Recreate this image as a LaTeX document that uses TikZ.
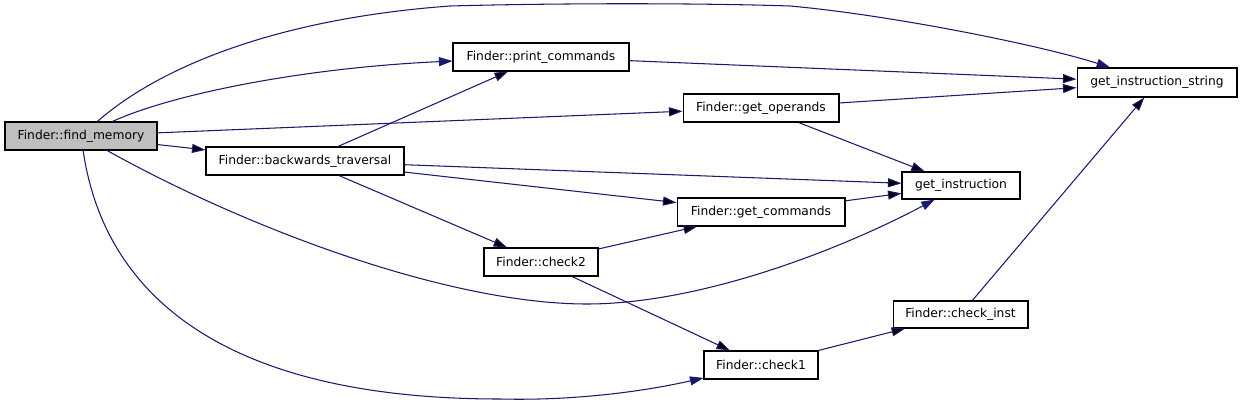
\documentclass[tikz,border=0pt]{standalone}
\usepackage{fontspec}
\setmainfont{DejaVu Sans}
\usetikzlibrary{arrows.meta}
\definecolor{callblue}{HTML}{191970}
\definecolor{rootgray}{HTML}{BFBFBF}

\begin{document}
\begin{tikzpicture}[
    x = 0.02cm,
    y = -0.02cm,
    font = \fontsize{7}{8}\selectfont,
    >={Triangle[length=0.27cm, width=0.18cm]},
    ]

    \tikzstyle{box}=[
    draw = black,
    line width = 0.6pt,
    fill = white,
    inner sep = 0pt,
    minimum height = 0.56cm,
    ]
    \tikzstyle{call}=[
    ->,
    draw = callblue,
    fill = none,
    line width = 0.6pt,
    ]

    \useasboundingbox (0,0) rectangle (1243,405);

    \node[box, fill=rootgray, minimum width=3.04cm] (fm) at (81,136) {Finder::find\_memory};
    \node[box, minimum width=3.52cm] (pc) at (541,57) {Finder::print\_commands};
    \node[box, minimum width=3.2cm, minimum height=0.58cm] (gis) at (1157,82.5) {get\_instruction\_string};
    \node[box, minimum width=3.12cm] (go) at (761,108) {Finder::get\_operands};
    \node[box, minimum width=3.96cm] (bt) at (305,161) {Finder::backwards\_traversal};
    \node[box, minimum width=2.36cm, minimum height=0.54cm] (gi) at (961,185.5) {get\_instruction};
    \node[box, minimum width=3.36cm] (gc) at (761,212) {Finder::get\_commands};
    \node[box, minimum width=2.28cm] (c2) at (541,262) {Finder::check2};
    \node[box, minimum width=2.7cm, minimum height=0.54cm] (ci) at (960.5,314.5) {Finder::check\_inst};
    \node[box, minimum width=2.28cm] (c1) at (761,365) {Finder::check1};

    % calls out of find_memory
    \draw[call] (fm) .. controls (150,75) and (260,20) .. (450,6)
        .. controls (560,3) and (700,3) .. (790,6)
        .. controls (890,15) and (1040,45) .. (gis);
    \draw[call] (fm) .. controls (170,95) and (300,68) .. (pc);
    \path[call] (fm) edge (go);
    \path[call] (fm) edge (bt);
    \draw[call] (fm) .. controls (250,230) and (450,304) .. (587,304)
        .. controls (700,304) and (840,250) .. (gi);
    \draw[call] (fm) .. controls (105,300) and (230,399) .. (500,399)
        .. controls (580,401) and (650,390) .. (c1);

    % the rest
    \path[call] (bt) edge (pc);
    \path[call] (bt) edge (gi);
    \path[call] (bt) edge (gc);
    \path[call] (bt) edge (c2);
    \path[call] (pc) edge (gis);
    \path[call] (go) edge (gis);
    \path[call] (go) edge (gi);
    \path[call] (gc) edge (gi);
    \path[call] (c2) edge (gc);
    \path[call] (c2) edge (c1);
    \path[call] (c1) edge (ci);
    \path[call] (ci) edge (gis);
  \end{tikzpicture}
\end{document}
